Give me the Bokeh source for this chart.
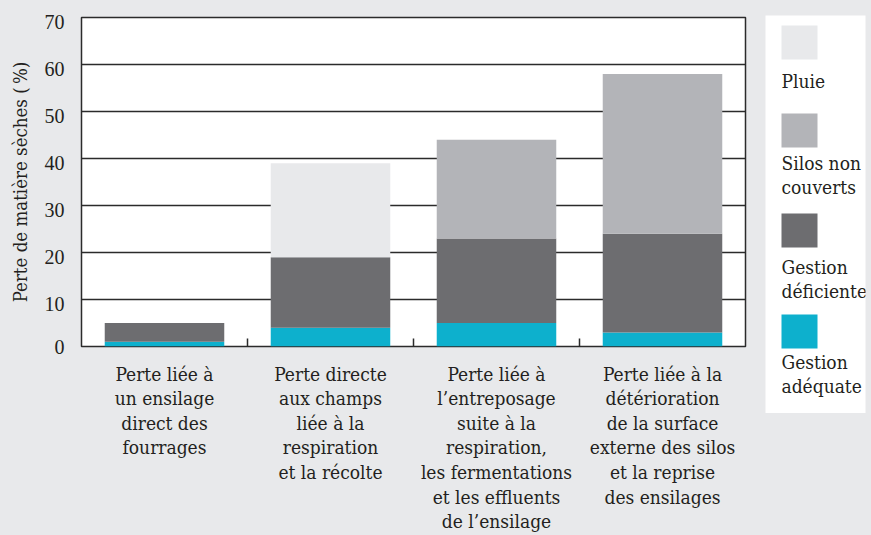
from bokeh.plotting import figure
from bokeh.models import Range1d, FixedTicker, ColumnDataSource
from bokeh.layouts import row, column
from bokeh.embed import file_html
from bokeh.resources import INLINE
from bokeh.core.properties import value

# ---------------- data ----------------
categories = [
    "Perte liée à\nun ensilage\ndirect des\nfourrages",
    "Perte directe\naux champs\nliée à la\nrespiration\net la récolte",
    "Perte liée à\nl’entreposage\nsuite à la\nrespiration,\nles fermentations\net les effluents\nde l’ensilage",
    "Perte liée à la\ndétérioration\nde la surface\nexterne des silos\net la reprise\ndes ensilages",
]
series_names = ["Gestion adéquate", "Gestion déficiente", "Silos non couverts", "Pluie"]
gestion_adequate = [1, 4, 5, 3]
gestion_deficiente = [4, 15, 18, 21]
silos_non_couverts = [0, 0, 21, 34]
pluie = [0, 20, 0, 0]
series_colors = ["#0DB0CD", "#6D6D70", "#B3B4B8", "#E8E9EB"]
y_ticks = [0, 10, 20, 30, 40, 50, 60, 70]
legend_labels = ["Pluie", "Silos non\ncouverts", "Gestion\ndéficiente", "Gestion\nadéquate"]
legend_colors = ["#E8E9EB", "#B3B4B8", "#6D6D70", "#0DB0CD"]
y_label = "Perte de matière sèches (\u2009%)"

# ---------------- style ----------------
BG = "#E8E9EB"
INK = "#231F20"
LINE = "#2B2B2B"
SERIF = "DejaVu Serif Condensed"
SANS = "Liberation Sans Narrow"

x_pos = [i + 0.5 for i in range(len(categories))]
source = ColumnDataSource(dict(
    x=x_pos,
    adequate=gestion_adequate,
    deficiente=gestion_deficiente,
    silos=silos_non_couverts,
    pluie=pluie,
))

p = figure(
    width=765, height=535,
    x_range=Range1d(0, len(categories)), y_range=Range1d(0, 70),
    output_backend="svg", toolbar_location=None,
    min_border_left=81, min_border_right=20, min_border_top=17, min_border_bottom=0,
)
p.border_fill_color = BG
p.background_fill_color = "white"
p.outline_line_color = LINE
p.outline_line_width = 1.5

p.vbar_stack(["adequate", "deficiente", "silos", "pluie"], x="x", width=0.72,
             fill_color=series_colors, line_color=None, source=source)

# x axis (category labels centred, small inner ticks at category boundaries)
p.xaxis.ticker = FixedTicker(ticks=x_pos, minor_ticks=[1, 2, 3])
p.xaxis.major_label_overrides = {xv: c for xv, c in zip(x_pos, categories)}
p.xaxis.major_tick_line_color = None
p.xaxis.minor_tick_in = 8
p.xaxis.minor_tick_out = 0
p.xaxis.minor_tick_line_color = LINE
p.xaxis.minor_tick_line_width = 1.5
p.xaxis.axis_line_color = None
p.xaxis.major_label_text_font = SERIF
p.xaxis.major_label_text_font_size = "19px"
p.xaxis.major_label_text_line_height = 1.12
p.xaxis.major_label_text_color = INK
p.xaxis.major_label_standoff = 10

# y axis: tick labels sit slightly below their grid line
shift = 1
label_ticks = [v - shift if v > 0 else v for v in y_ticks]
p.yaxis.ticker = FixedTicker(ticks=label_ticks)
p.yaxis.major_label_overrides = {t: str(v) for t, v in zip(label_ticks, y_ticks)}
p.yaxis.major_tick_line_color = None
p.yaxis.minor_tick_line_color = None
p.yaxis.axis_line_color = None
p.yaxis.major_label_text_font = SANS
p.yaxis.major_label_text_font_size = "20px"
p.yaxis.major_label_text_color = INK
p.yaxis.major_label_standoff = 11
p.yaxis.axis_label = y_label
p.yaxis.axis_label_text_font = SERIF
p.yaxis.axis_label_text_font_size = "18.5px"
p.yaxis.axis_label_text_font_style = "normal"
p.yaxis.axis_label_text_color = INK
p.yaxis.axis_label_standoff = 11

p.xgrid.visible = False
p.ygrid.ticker = FixedTicker(ticks=y_ticks)
p.ygrid.grid_line_color = LINE
p.ygrid.grid_line_width = 1.5

# ---------------- legend panel ----------------
LW, LH = 100, 398
lg = figure(
    width=LW + 6, height=LH + 15,
    x_range=Range1d(0, LW), y_range=Range1d(LH, 0),
    output_backend="svg", toolbar_location=None,
    min_border_left=0, min_border_right=6, min_border_top=15, min_border_bottom=0,
)
lg.border_fill_color = BG
lg.background_fill_color = "white"
lg.outline_line_color = None
lg.axis.visible = False
lg.grid.visible = False

swatch_tops = [10, 98, 198, 299]      # layout offsets inside the legend box (px)
label_tops = [54, 136, 240, 335]
sw = 36
lg.quad(left=[16] * 4, right=[16 + sw] * 4, top=swatch_tops,
        bottom=[t + 34 for t in swatch_tops],
        fill_color=legend_colors, line_color=None)
lg.text(x=[16] * 4, y=label_tops, text=legend_labels,
        text_font=value(SERIF), text_font_size="19px", text_color=INK,
        text_baseline="top", text_align="left", text_line_height=1.12)

layout = row(p, column(lg))

html = file_html(layout, INLINE)
html = html.replace("<head>", "<head><style>html,body{background:#E8E9EB;}</style>", 1)
open("out.html", "w").write(html)
